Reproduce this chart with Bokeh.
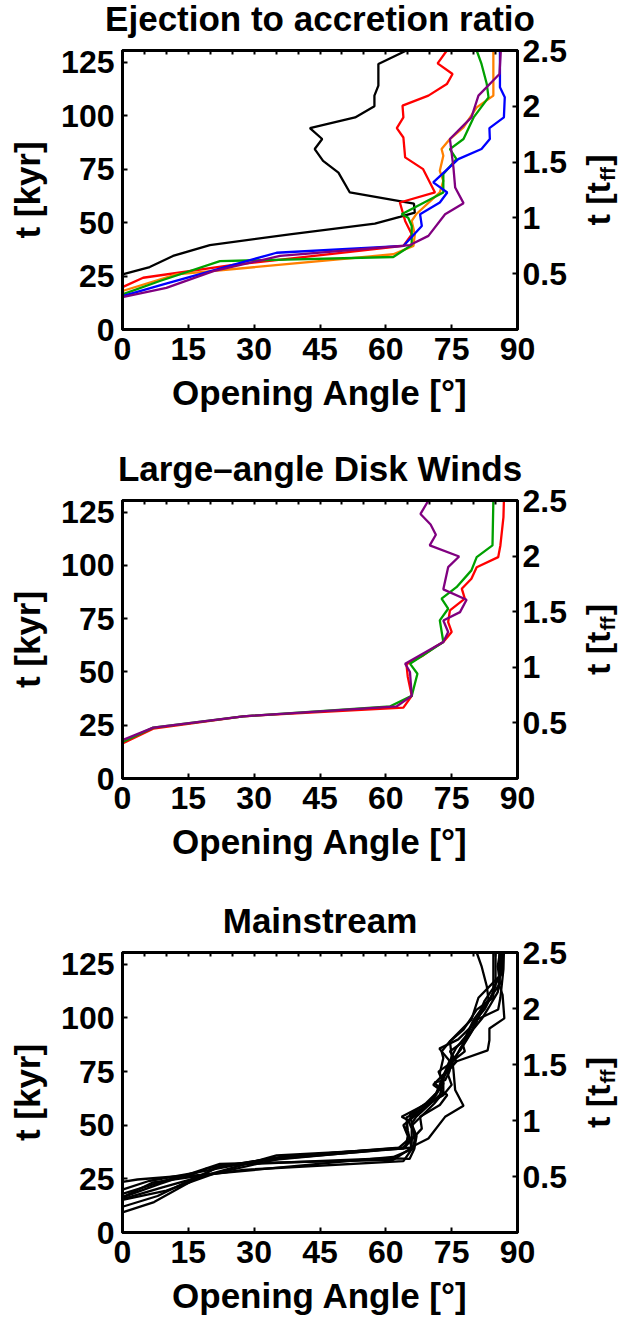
import math
from bokeh.plotting import figure
from bokeh.models import Range1d, LinearAxis, FixedTicker, CustomJSTickFormatter, Label
from bokeh.layouts import column
from bokeh.embed import file_html
from bokeh.resources import INLINE

FONT = "Liberation Sans"

# ---------------- data: (opening angle [deg], time [kyr]) ----------------
# Panel 1: Ejection to accretion ratio
ej_black_a = [0, 6.2, 11.5, 19.9, 38.1, 57.5, 63.2, 66.6, 66.4, 51.8, 49.2, 45.7, 43.8, 45.5, 42.7, 53.0, 57.4, 57.4, 58.3, 58.3, 64.7]
ej_black_t = [25.8, 29.2, 34.4, 39.5, 44.5, 49.5, 52.7, 54.7, 58.9, 64.1, 73.4, 78.9, 84.4, 89.1, 94.2, 99.2, 104.4, 109.4, 114.1, 124.2, 130.5]
ej_red_a = [0, 4.7, 25.2, 64.0, 65.9, 64.4, 63.2, 71.2, 68.5, 64.4, 64.0, 62.5, 64.0, 63.8, 69.7, 73.9, 75.2, 71.8, 73.9]
ej_red_t = [19.8, 24.2, 30.2, 39.1, 44.5, 50.8, 59.4, 64.1, 75.0, 80.5, 89.8, 94.2, 99.2, 104.7, 109.4, 114.8, 119.5, 124.5, 130.5]
ej_orange_a = [0, 12.3, 61.7, 66.3, 66.6, 65.9, 66.9, 72.3, 73.1, 72.3, 73.1, 72.7, 74.6, 77.7, 80.7, 84.5, 84.5]
ej_orange_t = [18.0, 25.8, 35.2, 39.1, 44.5, 50.8, 53.9, 64.1, 69.5, 74.2, 81.3, 84.4, 89.1, 94.5, 103.9, 109.4, 130.5]
ej_green_a = [0, 8.5, 22.2, 61.7, 65.9, 65.9, 65.1, 63.6, 73.1, 73.1, 76.1, 74.6, 77.7, 80.0, 83.4, 83.0, 81.8, 80.7]
ej_green_t = [16.4, 22.7, 32.0, 33.9, 39.5, 48.4, 52.3, 53.9, 64.1, 72.7, 79.7, 84.4, 89.1, 99.2, 108.6, 114.8, 124.2, 130.5]
ej_blue_a = [0, 9.3, 35.1, 64.0, 68.2, 67.8, 72.3, 74.0, 70.8, 76.5, 81.8, 83.7, 83.6, 86.9, 87.1, 86.0, 86.0]
ej_blue_t = [15.6, 21.1, 35.9, 39.1, 48.4, 53.9, 59.4, 64.1, 68.8, 79.7, 84.4, 89.1, 94.2, 99.2, 108.6, 113.3, 130.5]
ej_purple_a = [0, 10.0, 20.7, 35.9, 65.5, 69.7, 73.5, 77.7, 75.8, 75.4, 74.6, 79.5, 81.1, 85.9, 86.2]
ej_purple_t = [15.2, 19.5, 27.3, 34.4, 39.5, 43.8, 53.9, 59.1, 66.4, 75.8, 89.1, 99.2, 109.4, 119.5, 130.5]

# Panel 2: Large-angle Disk Winds
lw_red_a = [0, 7.0, 27.5, 64.0, 65.9, 65.0, 64.7, 68.5, 71.2, 73.1, 75.0, 74.2, 74.6, 78.0, 77.3, 79.5, 80.7, 85.6, 86.1, 86.8, 86.9]
lw_red_t = [16.4, 23.4, 29.2, 33.3, 38.8, 47.7, 53.6, 57.8, 61.7, 64.1, 68.8, 73.4, 78.9, 84.4, 89.1, 93.8, 99.2, 103.9, 109.4, 122.7, 130.5]
lw_green_a = [0, 7.0, 27.5, 61.0, 65.9, 67.2, 65.5, 73.1, 72.3, 74.2, 72.7, 76.1, 79.5, 80.7, 84.3, 84.5]
lw_green_t = [17.2, 23.9, 29.2, 33.9, 38.8, 49.2, 53.9, 64.1, 74.2, 79.7, 84.4, 89.8, 97.7, 103.9, 109.4, 130.5]
lw_purple_a = [0, 7.0, 27.5, 62.5, 65.9, 65.5, 64.4, 73.1, 74.2, 73.1, 76.9, 78.4, 73.1, 74.2, 76.7, 70.0, 71.4, 70.2, 67.9, 69.7]
lw_purple_t = [18.0, 23.9, 29.2, 33.9, 38.8, 50.0, 53.9, 64.1, 68.8, 74.2, 78.1, 83.9, 88.8, 99.2, 104.2, 109.4, 114.4, 119.2, 124.2, 130.5]

# Panel 3: Mainstream (all black)
ms1_a = [0, 9.3, 35.1, 64.0, 68.2, 67.8, 72.3, 74.0, 70.8, 76.0, 83.2, 83.6, 83.6, 87.0, 86.6, 85.9, 85.9]
ms1_t = [15.6, 21.1, 35.9, 39.1, 48.4, 53.9, 59.4, 64.1, 68.8, 79.7, 84.9, 89.6, 95.1, 99.8, 110.8, 114.8, 130.5]
ms2_a = [0, 10.0, 20.7, 35.9, 65.5, 69.7, 73.5, 77.7, 75.8, 75.4, 74.6, 79.5, 81.1, 85.9, 86.2]
ms2_t = [15.2, 19.5, 27.3, 34.4, 39.5, 43.8, 53.9, 59.1, 66.4, 75.8, 89.1, 99.2, 109.4, 119.5, 130.5]
ms3_a = [0, 8.5, 22.2, 61.7, 65.9, 65.9, 65.1, 63.6, 73.1, 73.1, 76.1, 74.6, 77.7, 80.0, 83.4, 83.0, 81.8, 80.7]
ms3_t = [16.4, 22.7, 32.0, 33.9, 39.5, 48.4, 52.3, 53.9, 64.1, 72.7, 79.7, 84.4, 89.1, 99.2, 108.6, 114.8, 124.2, 130.5]
ms4_a = [0, 12.3, 61.7, 66.3, 66.6, 65.9, 66.9, 72.3, 73.1, 72.3, 73.1, 72.7, 74.6, 77.7, 80.7, 84.5, 84.5]
ms4_t = [18.0, 25.8, 35.2, 39.1, 44.5, 50.8, 53.9, 64.1, 69.5, 74.2, 81.3, 84.4, 89.1, 94.5, 103.9, 109.4, 130.5]
ms5_a = [0, 7.0, 27.5, 64.0, 65.9, 65.0, 64.7, 68.5, 71.2, 73.1, 75.0, 74.2, 74.6, 78.0, 77.3, 79.5, 80.7, 85.6, 86.1, 86.8, 86.9]
ms5_t = [16.4, 23.4, 29.2, 33.3, 38.8, 47.7, 53.6, 57.8, 61.7, 64.1, 68.8, 73.4, 78.9, 84.4, 89.1, 93.8, 99.2, 103.9, 109.4, 122.7, 130.5]
ms6_a = [0, 3.4, 15.5, 19.3, 36.7, 63.9, 66.5, 66.0, 65.5, 69.0, 71.5, 72.5, 73.5, 74.5, 72.2, 76.5, 79.0, 81.0, 82.5, 84.0, 85.0, 85.0]
ms6_t = [23.6, 24.7, 26.7, 29.9, 35.4, 39.6, 45.0, 50.0, 55.0, 60.0, 65.0, 70.0, 75.0, 80.0, 85.7, 90.0, 95.0, 100.0, 105.0, 110.0, 115.0, 130.5]
ms7_a = [0, 7.2, 15.5, 22.3, 60.9, 65.4, 66.5, 67.0, 66.0, 68.5, 71.0, 73.0, 71.1, 73.5, 74.5, 75.0, 77.0, 78.5, 80.0, 82.0, 83.5, 85.5, 86.0, 86.0]
ms7_t = [9.4, 14.2, 23.6, 31.4, 34.6, 34.3, 39.0, 45.0, 50.0, 55.0, 60.0, 65.0, 70.0, 71.0, 75.0, 80.0, 85.0, 90.0, 95.0, 100.0, 105.0, 112.0, 120.0, 130.5]
ms8_a = [0, 8.0, 16.0, 22.0, 36.7, 63.0, 65.5, 64.5, 65.0, 67.0, 70.5, 72.0, 73.0, 74.0, 75.0, 76.0, 78.5, 80.0, 82.5, 84.0, 86.0, 85.5, 86.0]
ms8_t = [12.0, 17.0, 25.0, 30.5, 35.4, 39.6, 44.0, 48.0, 52.0, 56.0, 61.0, 66.0, 71.0, 76.0, 82.0, 86.0, 92.0, 98.0, 104.0, 110.0, 116.0, 124.0, 130.5]
ms9_a = [0, 6.0, 17.0, 30.0, 64.5, 65.0, 64.0, 67.0, 69.5, 71.5, 73.0, 72.0, 75.5, 77.0, 79.0, 80.5, 81.5, 82.5, 84.5, 86.5, 86.5]
ms9_t = [20.0, 24.0, 28.0, 33.0, 39.6, 45.0, 50.0, 55.0, 60.0, 65.0, 70.0, 75.0, 80.0, 86.0, 92.0, 97.0, 103.0, 108.0, 114.0, 121.0, 130.5]

x_ticks = [0, 15, 30, 45, 60, 75, 90]
y_ticks = [0, 25, 50, 75, 100, 125]
tff_ticks = [0.5, 1, 1.5, 2, 2.5]
top_ticks = list(range(0, 91, 5))
X_MAX = 90
T_MAX = 130.5
TFF_MAX = 2.5

titles = ["Ejection to accretion ratio", "Large\u2013angle Disk Winds", "Mainstream"]
x_title = "Opening Angle [°]"
y_title = "t [kyr]"
r_title_main = "t [t \u2009]"
r_title_sub = "ff"

panel1 = [(ej_black_a, ej_black_t, "black"), (ej_red_a, ej_red_t, "#ff0000"),
          (ej_orange_a, ej_orange_t, "#ff8000"), (ej_green_a, ej_green_t, "#00a000"),
          (ej_blue_a, ej_blue_t, "#0000ff"), (ej_purple_a, ej_purple_t, "#800080")]
panel2 = [(lw_red_a, lw_red_t, "#ff0000"), (lw_green_a, lw_green_t, "#00a000"),
          (lw_purple_a, lw_purple_t, "#800080")]
panel3 = [(a, t, "black") for a, t in [(ms1_a, ms1_t), (ms2_a, ms2_t), (ms3_a, ms3_t),
                                        (ms4_a, ms4_t), (ms5_a, ms5_t), (ms6_a, ms6_t),
                                        (ms7_a, ms7_t), (ms8_a, ms8_t), (ms9_a, ms9_t)]]

FIG_W = 630
LEFT = 122
RIGHT_EDGE = 518
TOP = 50
FRAME_W = RIGHT_EDGE - LEFT


def style_axis(ax, ticks):
    ax.ticker = FixedTicker(ticks=ticks)
    ax.axis_line_width = 3
    ax.axis_line_color = "black"
    ax.major_tick_in = 5
    ax.major_tick_out = 0
    ax.major_tick_line_width = 2
    ax.minor_tick_line_color = None
    ax.major_label_text_font = FONT
    ax.major_label_text_font_style = "bold"
    ax.major_label_text_font_size = "32px"
    ax.major_label_text_color = "black"
    ax.major_label_standoff = 8
    ax.axis_label_text_font = FONT
    ax.axis_label_text_font_style = "bold"
    ax.axis_label_text_font_size = "35px"
    ax.axis_label_text_color = "black"
    ax.axis_label_standoff = 8


def make_panel(title, series, height, frame_h):
    bottom = height - TOP - frame_h
    p = figure(width=FIG_W, height=height, x_range=Range1d(0, X_MAX), y_range=Range1d(0, T_MAX),
               output_backend="svg", toolbar_location=None,
               min_border_left=LEFT, min_border_right=FIG_W - RIGHT_EDGE,
               min_border_top=TOP, min_border_bottom=bottom)
    p.extra_y_ranges = {"tff": Range1d(0, TFF_MAX)}
    p.xgrid.visible = False
    p.ygrid.visible = False
    p.outline_line_color = "black"
    p.outline_line_width = 3
    p.background_fill_color = "white"
    p.border_fill_color = "white"
    p.title.text = ""
    p.title.standoff = 0
    p.title.text_font_size = "1px"

    style_axis(p.xaxis[0], x_ticks)
    p.xaxis[0].axis_label = x_title
    p.xaxis[0].major_label_standoff = 8
    p.xaxis[0].axis_label_standoff = 10
    style_axis(p.yaxis[0], y_ticks)
    p.yaxis[0].axis_label = y_title
    p.yaxis[0].axis_label_standoff = 11

    right = LinearAxis(y_range_name="tff")
    style_axis(right, tff_ticks)
    right.major_label_standoff = 5
    right.formatter = CustomJSTickFormatter(code="return tick.toString();")
    p.add_layout(right, "right")

    top = LinearAxis()
    style_axis(top, top_ticks)
    top.major_tick_in = 4
    top.major_label_text_font_size = "1px"
    top.major_label_standoff = 0
    top.formatter = CustomJSTickFormatter(code="return '';")
    p.add_layout(top, "above")

    for a, t, c in series:
        p.line(x=a, y=t, line_color=c, line_width=2.3)

    # pixel helpers (only for placing the texts around the frame)
    kpp = T_MAX / frame_h          # kyr per pixel
    dpp = X_MAX / FRAME_W          # degree per pixel

    # title: baseline 20 px above the frame, centred on the frame
    p.add_layout(Label(x=X_MAX / 2.0, y=T_MAX + 32 * kpp, text=title, text_align="center",
                       text_baseline="middle", text_font=FONT, text_font_style="bold",
                       text_font_size="35px", text_color="black"), "above")

    # right-hand axis title t [t_ff], rotated, centred on the frame
    main_w = 34 * (0.333 + 0.278 + 0.333 + 0.333)
    total_w = main_w + 34 * (0.278 + 0.2 + 0.333)
    y0 = T_MAX / 2.0 - total_w / 2.0 * kpp
    p.add_layout(Label(x=X_MAX + (599 - RIGHT_EDGE) * dpp, y=y0, text=r_title_main,
                       angle=math.pi / 2, text_align="left", text_baseline="middle",
                       text_font=FONT, text_font_style="bold", text_font_size="34px",
                       text_color="black"), "right")
    p.add_layout(Label(x=X_MAX + (608 - RIGHT_EDGE) * dpp, y=y0 + (main_w + 1) * kpp,
                       text=r_title_sub, angle=math.pi / 2, text_align="left",
                       text_baseline="middle", text_font=FONT, text_font_style="bold",
                       text_font_size="21px", text_color="black"), "right")
    return p


heights = [450, 452, 420]
frame_hs = [279, 278, 280]
series_all = [panel1, panel2, panel3]
figs = [make_panel(t, s, h, fh) for t, s, h, fh in zip(titles, series_all, heights, frame_hs)]

layout = column(*figs)
open("out.html", "w").write(file_html(layout, INLINE))
